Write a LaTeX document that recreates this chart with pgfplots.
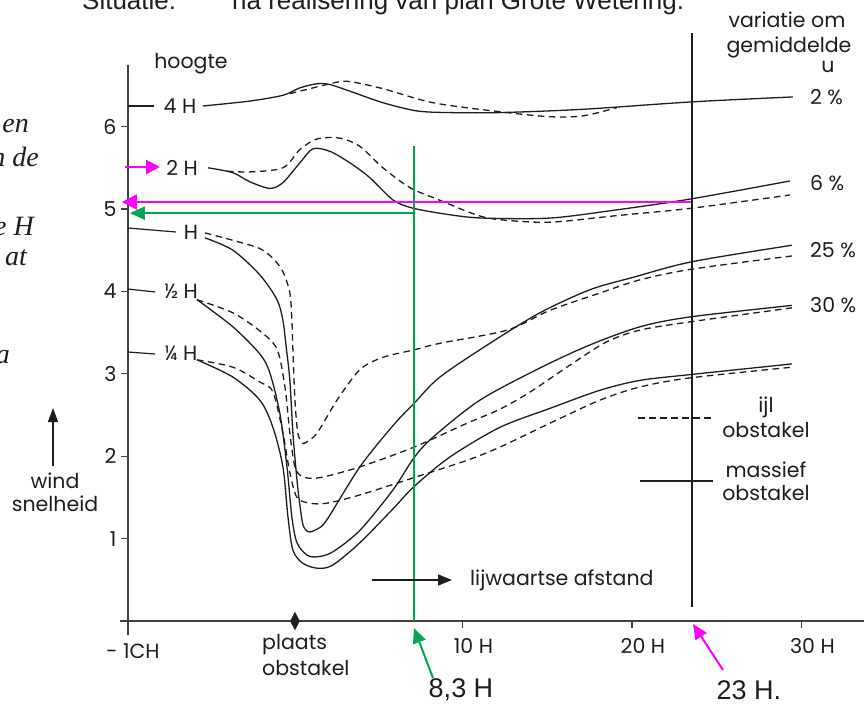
\documentclass[border=0pt]{standalone}
\usepackage{fontspec}
\setmainfont{Poppins}
\newfontfamily\arialf{Liberation Sans}
\newfontfamily\serifx{Liberation Serif}
\usepackage{pgfplots}
\pgfplotsset{compat=1.18}
\usetikzlibrary{arrows.meta}

\definecolor{ink}{HTML}{1E1E1E}
\definecolor{mag}{HTML}{FF00FF}
\definecolor{grn}{HTML}{00A651}
\newcommand\fs[1]{\fontsize{#1bp}{#1bp}\selectfont}
\newcommand\lbl{\fs{20.5}}

\pgfplotsset{
  massief/.style={ink, line width=1.3bp, smooth, tension=0.5},
  ijl/.style={massief, dash pattern=on 6.5bp off 4.5bp},
}

\begin{document}
\begin{tikzpicture}
\begin{axis}[
  at={(128bp,-621bp)}, anchor=south west,
  scale only axis, width=736.1bp, height=556.2bp,
  xmin=-9.73, xmax=33.7, ymin=0, ymax=6.75,
  axis lines=left, axis line style={-, draw=ink!85, line width=1.4bp},
  clip=false,
  xtick={10,20,30}, xticklabels={10 H,20 H,30 H},
  ytick={1,2,3,4,5,6},
  tick align=outside, major tick length=7bp,
  tick style={ink!85, line width=1.2bp},
  tick label style={font=\lbl, text=ink},
  /pgf/number format/assume math mode=true,
  xticklabel style={xshift=11bp, yshift=-7bp},
  yticklabel style={xshift=-1bp},
]
% 4 H
\addplot[massief] coordinates {(-5.31,6.25) (-2.54,6.31) (-0.59,6.38) (0.41,6.47) (1.42,6.52) (2.18,6.51) (3.36,6.43) (5.31,6.29) (7.32,6.19) (9.26,6.17) (12.21,6.17) (17.11,6.21) (23.54,6.30) (29.5,6.36)};
\addplot[ijl] coordinates {(-0.18,6.40) (1.0,6.46) (2.0,6.51) (3.19,6.55) (5.31,6.46) (8.26,6.29) (12.21,6.18) (15.16,6.12) (17.11,6.13) (19.12,6.23)};
% 2 H
\addplot[massief] coordinates {(-5.01,5.50) (-3.54,5.44) (-2.54,5.33) (-1.36,5.25) (-0.59,5.32) (0.41,5.56) (1.18,5.73) (2.18,5.70) (3.36,5.56) (4.54,5.38) (5.9,5.11) (7.08,5.01) (9.26,4.93) (11.21,4.89) (15.16,4.89) (19.12,4.99) (23.42,5.12) (29.32,5.34)};
\addplot[ijl] coordinates {(-3.89,5.46) (-2.54,5.45) (-0.59,5.50) (0.41,5.72) (1.42,5.85) (2.77,5.86) (3.95,5.76) (5.31,5.50) (6.9,5.26) (8.5,5.12) (10.8,4.93) (12.21,4.87) (15.16,4.84) (19.12,4.92) (23.54,5.01) (29.32,5.17)};
% H
\addplot[massief] coordinates {(-5.19,4.65) (-3.54,4.50) (-1.95,4.20) (-0.94,3.90) (-0.59,3.65) (-0.41,3.35) (-0.18,2.92) (0,2.28) (0.24,1.71) (0.41,1.41) (0.59,1.17) (0.83,1.09) (1.0,1.08) (1.47,1.12) (2.01,1.23) (3.95,1.87) (5.9,2.37) (7.14,2.64) (8.67,2.96) (11.62,3.37) (14.57,3.74) (17.52,4.02) (20.06,4.17) (23.54,4.36) (29.44,4.56)};
\addplot[ijl] coordinates {(-5.19,4.71) (-3.54,4.62) (-1.95,4.52) (-1.18,4.40) (-0.59,4.24) (-0.18,3.98) (-0.06,3.65) (0,3.29) (0.12,2.68) (0.29,2.28) (0.53,2.17) (0.71,2.16) (1.42,2.28) (2.60,2.68) (3.95,3.05) (5.31,3.20) (7.14,3.29) (8.67,3.37) (12.63,3.53) (15.16,3.77) (18.11,3.98) (20.47,4.14) (23.54,4.27) (29.44,4.43)};
% 1/2 H
\addplot[massief] coordinates {(-5.66,3.90) (-3.54,3.57) (-1.95,3.24) (-1.36,3.01) (-0.77,2.52) (-0.35,1.87) (-0.06,1.26) (0.24,0.95) (0.83,0.80) (1.47,0.78) (2.36,0.84) (3.95,1.10) (5.9,1.59) (7.14,1.98) (8.26,2.23) (11.03,2.68) (14.57,3.07) (17.52,3.35) (20.47,3.57) (23.42,3.69) (29.44,3.83)};
\addplot[ijl] coordinates {(-5.66,3.90) (-3.54,3.74) (-1.95,3.52) (-0.94,3.30) (-0.47,2.84) (-0.18,2.28) (0.12,1.87) (0.59,1.75) (1.59,1.74) (3.95,1.87) (7.14,2.11) (10.27,2.40) (12.21,2.57) (14.0,2.78) (16.52,3.13) (18.53,3.39) (20.47,3.53) (23.42,3.63) (29.44,3.80)};
% 1/4 H
\addplot[massief] coordinates {(-5.66,3.17) (-3.54,2.96) (-1.95,2.68) (-1.18,2.35) (-0.59,1.87) (-0.29,1.26) (0,0.86) (0.59,0.70) (1.47,0.64) (2.36,0.68) (3.95,0.95) (5.9,1.36) (7.14,1.63) (9.26,1.99) (12.21,2.35) (15.16,2.58) (18.11,2.80) (20.47,2.92) (23.42,2.99) (29.44,3.12)};
\addplot[ijl] coordinates {(-5.66,3.17) (-3.54,3.08) (-1.95,2.90) (-1.18,2.78) (-0.59,2.28) (-0.18,1.80) (0.24,1.50) (1.0,1.43) (2.01,1.43) (3.95,1.53) (7.14,1.74) (10.27,1.95) (12.21,2.11) (15.16,2.40) (18.11,2.68) (20.47,2.84) (23.42,2.95) (29.44,3.08)};
% position of the obstacle
\addplot[only marks, mark=diamond*, mark size=8bp, mark options={xscale=0.75, yscale=1.1, fill=ink, draw=ink}] coordinates {(0.12,0)};
% read-off lines
\draw[grn, line width=2bp] (axis cs:7.14,0) -- (axis cs:7.14,5.76);
\draw[grn, line width=2bp, -{Triangle[length=15bp,width=13bp]}] (axis cs:7.14,4.95) -- (axis cs:-9.62,4.95);
\draw[mag, line width=2bp, -{Triangle[length=15bp,width=15bp]}] (axis cs:23.54,5.085) -- (axis cs:-10.09,5.085);
\draw[ink, line width=2bp] (axis cs:23.54,0.17) -- (axis cs:23.54,7.14);
\end{axis}

\begin{scope}[x=1bp, y=-1bp, every node/.style={inner sep=0pt, text=ink}]
% axis ends past the origin
\draw[ink!85, line width=1.4bp] (128,621) -- (128,635);
\draw[ink!85, line width=1.4bp] (120,621) -- (128,621);
\node[font=\lbl] at (133,651) {- 1CH};
\node[font=\lbl, anchor=west] at (262,645) {plaats};
\node[font=\lbl, anchor=west] at (262,668) {obstakel};
\node[font=\lbl] at (191,64) {hoogte};
% height labels
\draw[ink, line width=1.2bp] (128,106) -- (154,106);
\node[font=\lbl] at (180,106) {4 H};
\draw[mag, line width=2bp, -{Triangle[length=14bp,width=14bp]}] (125,167) -- (160,167);
\node[font=\lbl] at (182,168) {2 H};
\draw[ink, line width=1.2bp] (128,228) -- (176,232);
\node[font=\lbl] at (191,232) {H};
\draw[ink, line width=1.2bp] (128,289) -- (155,292);
\node[font=\lbl] at (181,291) {½ H};
\draw[ink, line width=1.2bp] (128,352) -- (155,354);
\node[font=\lbl] at (181,353) {¼ H};
% y quantity
\draw[ink, line width=1.3bp, -{Triangle[length=14bp,width=10bp]}] (53,466) -- (53,408);
\node[font=\lbl] at (55,481) {wind};
\node[font=\lbl] at (55,504) {snelheid};
% x direction
\draw[ink, line width=1.3bp, -{Triangle[length=14bp,width=11bp]}] (372,580) -- (452,580);
\node[font=\lbl, anchor=west] at (470,580) {lijwaartse afstand};
% legend
\draw[ink, line width=1.2bp, dash pattern=on 6.5bp off 4.5bp] (638,418) -- (713,418);
\node[font=\lbl] at (766,407) {ijl};
\node[font=\lbl] at (766,430) {obstakel};
\draw[ink, line width=1.2bp] (640,481) -- (713,481);
\node[font=\lbl] at (766,470) {massief};
\node[font=\lbl] at (766,493) {obstakel};
% variation labels
\node[font=\lbl] at (787,20) {variatie om};
\node[font=\lbl] at (789,47) {gemiddelde};
\node[font=\lbl] at (828,67) {u};
\node[font=\lbl, anchor=west] at (810,97) {2 \%};
\node[font=\lbl, anchor=west] at (810,183) {6 \%};
\node[font=\lbl, anchor=west] at (810,250) {25 \%};
\node[font=\lbl, anchor=west] at (810,305) {30 \%};
% read-off values
\draw[grn, line width=2bp, -{Triangle[length=15bp,width=13bp]}] (433,678) -- (414,628);
\node[font=\arialf\fs{27}] at (461,690) {8,3 H};
\draw[mag, line width=2bp, -{Triangle[length=15bp,width=13bp]}] (723,670) -- (693,624);
\node[font=\arialf\fs{27}] at (749,690) {23 H.};
% heading and margin text
\node[font=\arialf\fs{26}, anchor=base west] at (82,9) {Situatie:};
\node[font=\arialf\fs{26}, anchor=base west] at (232,9) {na realisering van plan Grote Wetering.};
\node[font=\serifx\itshape\fs{28}, anchor=base east] at (29,132) {en};
\node[font=\serifx\itshape\fs{28}, anchor=base east] at (39,166) {n de};
\node[font=\serifx\itshape\fs{28}, anchor=base east] at (34,235) {e H};
\node[font=\serifx\itshape\fs{28}, anchor=base east] at (27,265) {at};
\node[font=\serifx\itshape\fs{28}, anchor=base east] at (10,363) {a};
\end{scope}
\pgfresetboundingbox
\useasboundingbox (0bp,0bp) rectangle (864bp,-704bp);
\end{tikzpicture}
\end{document}
